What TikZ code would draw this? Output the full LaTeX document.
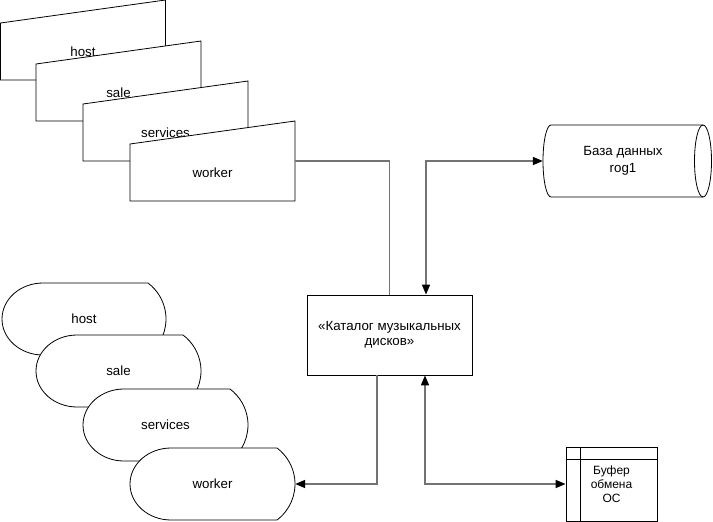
\documentclass[tikz,border=0pt]{standalone}
\usepackage{fontspec}
\setmainfont{Liberation Sans}
\usetikzlibrary{arrows.meta}
\definecolor{linegray}{RGB}{115,115,115}

\begin{document}
\begin{tikzpicture}[x=1pt,y=-1pt,
    fig/.style={draw=black, fill=white, line width=0.8pt},
    body/.style={inner sep=0pt, align=center, font=\fontsize{13.3}{15.3}\selectfont},
    link/.style={draw=linegray, line width=1.6pt},
    >={Triangle[length=10pt,width=8pt,color=black]}]

    \useasboundingbox (0,0) rectangle (713,522);

    % manual input
    \draw[fig] (0.5,23) -- (165.5,0) -- (165.5,80) -- (0.5,80) -- cycle;
    \node[body, minimum width=165pt, minimum height=80pt, label={[body,yshift=-11.5pt]center:host}] (mhost) at (83,40) {};
    \draw[fig] (36,64) -- (201,41) -- (201,121) -- (36,121) -- cycle;
    \node[body, minimum width=165pt, minimum height=80pt, label={[body,yshift=-11.5pt]center:sale}] (msale) at (118.5,81) {};
    \draw[fig] (83,104) -- (248,81) -- (248,161) -- (83,161) -- cycle;
    \node[body, minimum width=165pt, minimum height=80pt, label={[body,yshift=-11.5pt]center:services}] (mservices) at (165.5,121) {};
    \draw[fig] (130,144) -- (295,121) -- (295,201) -- (130,201) -- cycle;
    \node[body, minimum width=165pt, minimum height=80pt, label={[body,yshift=-11.5pt]center:worker}] (mworker) at (212.5,161) {};

    % display
    \draw[fig] (43,283) arc[start angle=90,end angle=270,x radius=41pt,y radius=36pt] -- (148,355)
        arc[start angle=-53.13,end angle=53.13,radius=45pt] -- cycle;
    \node[body, minimum width=165pt, minimum height=72pt] (dhost) at (84,319) {host};
    \draw[fig] (77,335) arc[start angle=90,end angle=270,x radius=41pt,y radius=36pt] -- (183,407)
        arc[start angle=-53.13,end angle=53.13,radius=45pt] -- cycle;
    \node[body, minimum width=165pt, minimum height=72pt] (dsale) at (118.5,371) {sale};
    \draw[fig] (124,389) arc[start angle=90,end angle=270,x radius=41pt,y radius=36pt] -- (230,461)
        arc[start angle=-53.13,end angle=53.13,radius=45pt] -- cycle;
    \node[body, minimum width=165pt, minimum height=72pt] (dservices) at (165.5,425) {services};
    \draw[fig] (171,448) arc[start angle=90,end angle=270,x radius=41pt,y radius=36pt] -- (277,520)
        arc[start angle=-53.13,end angle=53.13,radius=45pt] -- cycle;
    \node[body, minimum width=165pt, minimum height=72pt] (dworker) at (212.5,484) {worker};

    \node[fig, body, minimum width=165pt, minimum height=80pt] (cat) at (389.5,335) {«Каталог музыкальных\\дисков»};

    % database
    \draw[fig] (551,125) -- (703,125) arc[start angle=90,end angle=-90,x radius=8.5pt,y radius=36pt]
        -- (551,197) arc[start angle=270,end angle=90,x radius=8pt,y radius=36pt] -- cycle;
    \draw[line width=0.8pt] (703,125) arc[start angle=90,end angle=270,x radius=8.5pt,y radius=36pt];
    \node[body, font=\fontsize{13.3}{17}\selectfont, minimum width=160pt, minimum height=72pt] (db) at (623,161) {База данных\\rog1};

    \node[fig, body, font=\fontsize{12}{14}\selectfont, minimum width=91pt, minimum height=74pt] (buf) at (611.5,484) {Буфер\\обмена\\ОС};
    \draw[line width=0.8pt] ([xshift=15pt]buf.north west) -- ([xshift=15pt]buf.south west);
    \draw[line width=0.8pt] ([yshift=-13pt]buf.north west) -- ([yshift=-13pt]buf.north east);

    \draw[link] (mworker.east) -| (cat.north);
    \draw[link, <->] ([xshift=36.5pt]cat.north) |- (db.west);
    \draw[link, ->] ([xshift=-12.5pt]cat.south) |- (dworker.east);
    \draw[link, <->] ([xshift=35.5pt]cat.south) |- (buf.west);
\end{tikzpicture}
\end{document}
